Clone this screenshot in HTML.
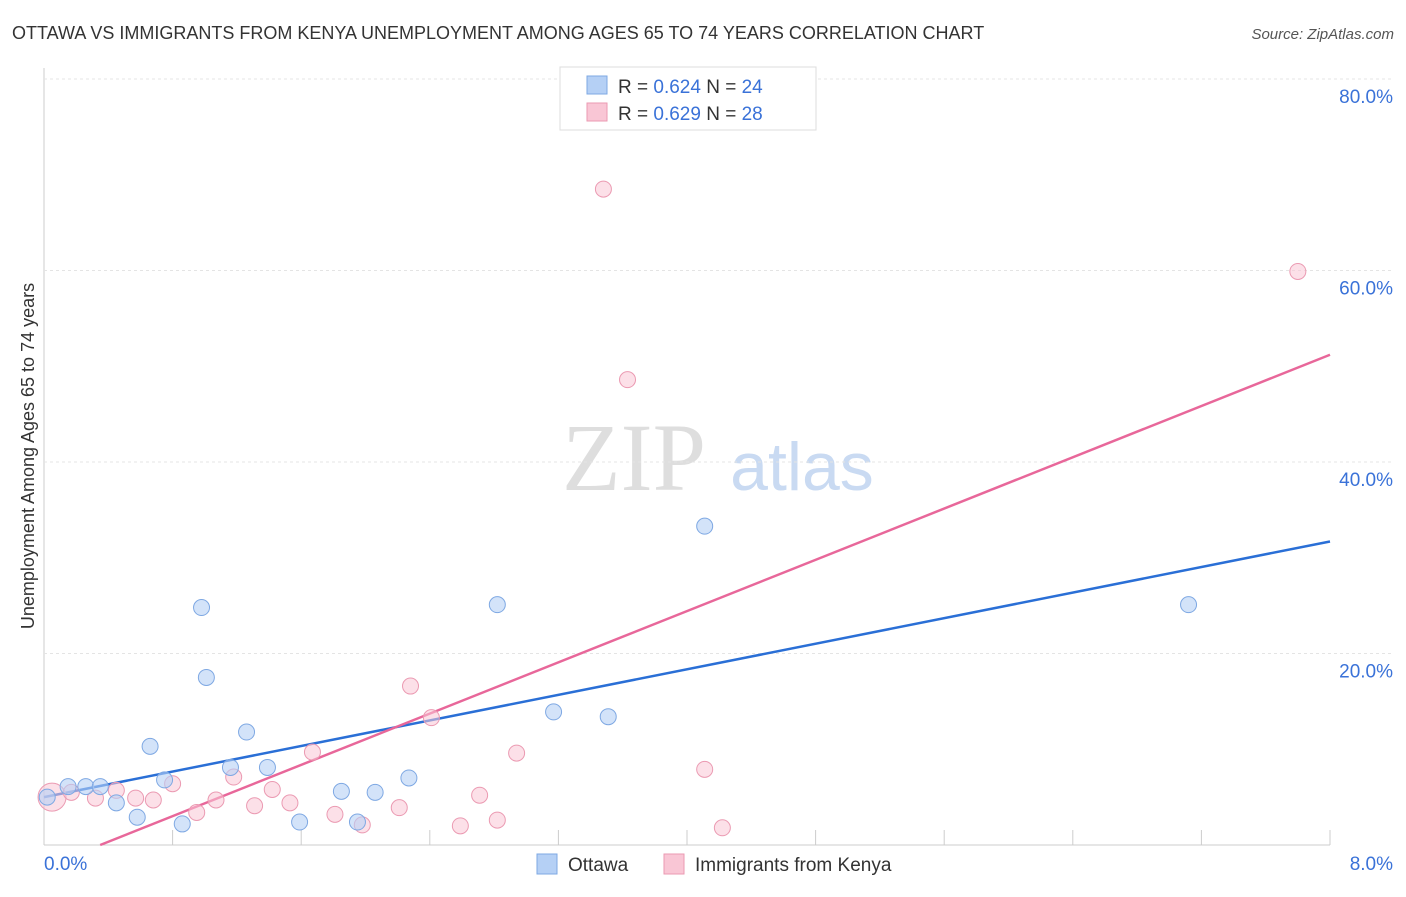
<!DOCTYPE html>
<html><head><meta charset="utf-8"><style>
body{margin:0;background:#fff;font-family:"Liberation Sans",sans-serif;}
svg text{font-family:"Liberation Sans",sans-serif;}
</style></head><body>
<svg id="chart" width="1406" height="892" xmlns="http://www.w3.org/2000/svg">
<text x="12" y="39" font-size="18" fill="#333">OTTAWA VS IMMIGRANTS FROM KENYA UNEMPLOYMENT AMONG AGES 65 TO 74 YEARS CORRELATION CHART</text>
<text x="1394" y="39" font-size="15" fill="#555" font-style="italic" text-anchor="end">Source: ZipAtlas.com</text>
<text transform="translate(34,456) rotate(-90)" font-size="18" fill="#333" text-anchor="middle">Unemployment Among Ages 65 to 74 years</text>
<g>
<text x="634" y="490" font-size="96" font-family="Liberation Serif" fill="#dedede" text-anchor="middle" style="font-family:'Liberation Serif',serif">ZIP</text>
<text x="802" y="490" font-size="68" fill="#c9daf2" text-anchor="middle">atlas</text>
</g>
<g id="grid"></g>
<g id="lines"></g>
<g id="points"></g>
<g>
<rect x="560" y="67" width="256" height="63" fill="#fff" stroke="#ddd"/>
<rect x="587" y="76" width="20" height="18" fill="#b5d0f5" stroke="#7ea8e3"/>
<text x="618" y="93" font-size="19" fill="#333">R = <tspan fill="#3a72d8">0.624</tspan>   N = <tspan fill="#3a72d8">24</tspan></text>
<rect x="587" y="103" width="20" height="18" fill="#f9c6d5" stroke="#eb9ab2"/>
<text x="618" y="120" font-size="19" fill="#333">R = <tspan fill="#3a72d8">0.629</tspan>   N = <tspan fill="#3a72d8">28</tspan></text>
</g>
<g>
<rect x="537" y="854" width="20" height="20" fill="#b5d0f5" stroke="#7ea8e3"/>
<text x="568" y="871" font-size="19" fill="#333">Ottawa</text>
<rect x="664" y="854" width="20" height="20" fill="#f9c6d5" stroke="#eb9ab2"/>
<text x="695" y="871" font-size="19" fill="#333">Immigrants from Kenya</text>
</g>
</svg>
<script>
const yTicks=[20,40,60,80];
const yTickLabels=["20.0%","40.0%","60.0%","80.0%"];
const xTicks=[0,0.8,1.6,2.4,3.2,4.0,4.8,5.6,6.4,7.2,8.0];
const xEndLabels=["0.0%","8.0%"];
const ottawaX=[0.02,0.15,0.26,0.35,0.45,0.58,0.66,0.75,0.86,0.98,1.01,1.16,1.26,1.39,1.59,1.85,1.95,2.06,2.27,2.82,3.17,3.51,4.11,7.12];
const ottawaY=[5.0,6.1,6.1,6.1,4.4,2.9,10.3,6.8,2.2,24.8,17.5,8.1,11.8,8.1,2.4,5.6,2.4,5.5,7.0,25.1,13.9,13.4,33.3,25.1];
const kenyaX=[0.05,0.17,0.32,0.45,0.57,0.68,0.80,0.95,1.07,1.18,1.31,1.42,1.53,1.67,1.81,1.98,2.21,2.28,2.41,2.59,2.71,2.82,2.94,3.48,3.63,4.11,4.22,7.80];
const kenyaY=[5.0,5.5,4.9,5.7,4.9,4.7,6.4,3.4,4.7,7.1,4.1,5.8,4.4,9.7,3.2,2.1,3.9,16.6,13.3,2.0,5.2,2.6,9.6,68.5,48.6,7.9,1.8,59.9];
const ottawaTrend=[5.0,31.7];
const kenyaTrend=[-2.34,51.2];
const NS="http://www.w3.org/2000/svg";
const X=v=>44+v*(1330-44)/8;
const Y=v=>845-v*9.575;
function mk(tag,attrs,parent){const e=document.createElementNS(NS,tag);for(const k in attrs)e.setAttribute(k,attrs[k]);parent.appendChild(e);return e;}
const grid=document.getElementById('grid');
const ax=mk('line',{x1:44,y1:68,x2:44,y2:845,stroke:'#ccc'},grid);


const bx=mk('line',{x1:44,y1:845,x2:1330,y2:845,stroke:'#ccc'},grid);


yTicks.forEach((t,i)=>{
 const g=mk('line',{x1:44,y1:Y(t),x2:1394,y2:Y(t),stroke:'#e4e4e4','stroke-dasharray':'3,3'},grid);
 
 
 const tx=mk('text',{x:1393,y:Y(t)+24,'font-size':19,fill:'#3a72d8','text-anchor':'end'},grid);
 tx.textContent=yTickLabels[i];
 
 
});
xTicks.forEach(t=>{
 const l=mk('line',{x1:X(t),y1:845,x2:X(t),y2:830,stroke:'#ccc'},grid);
 
 
});
const xl0=mk('text',{x:44,y:870,'font-size':19,fill:'#3a72d8'},grid);xl0.textContent=xEndLabels[0];


const xl1=mk('text',{x:1393,y:870,'font-size':19,fill:'#3a72d8','text-anchor':'end'},grid);xl1.textContent=xEndLabels[1];


const pts=document.getElementById('points');
kenyaX.forEach((x,i)=>{
 const c=mk('circle',{cx:X(x),cy:Y(kenyaY[i]),r:i===0?14:8,fill:'#f9c6d5','fill-opacity':0.55,stroke:'#eb9ab2','stroke-width':1},pts);
 
 
});
ottawaX.forEach((x,i)=>{
 const c=mk('circle',{cx:X(x),cy:Y(ottawaY[i]),r:8,fill:'#b5d0f5','fill-opacity':0.6,stroke:'#7ea8e3','stroke-width':1},pts);
 
 
});
const lines=document.getElementById('lines');
const bl=mk('line',{x1:X(0),y1:Y(ottawaTrend[0]),x2:X(8),y2:Y(ottawaTrend[1]),stroke:'#2a6fd6','stroke-width':2.5},lines);


const x0=-kenyaTrend[0]/((kenyaTrend[1]-kenyaTrend[0])/8);
const pl=mk('line',{x1:X(x0),y1:Y(0),x2:X(8),y2:Y(kenyaTrend[1]),stroke:'#e8679a','stroke-width':2.5},lines);


</script>
</body></html>
